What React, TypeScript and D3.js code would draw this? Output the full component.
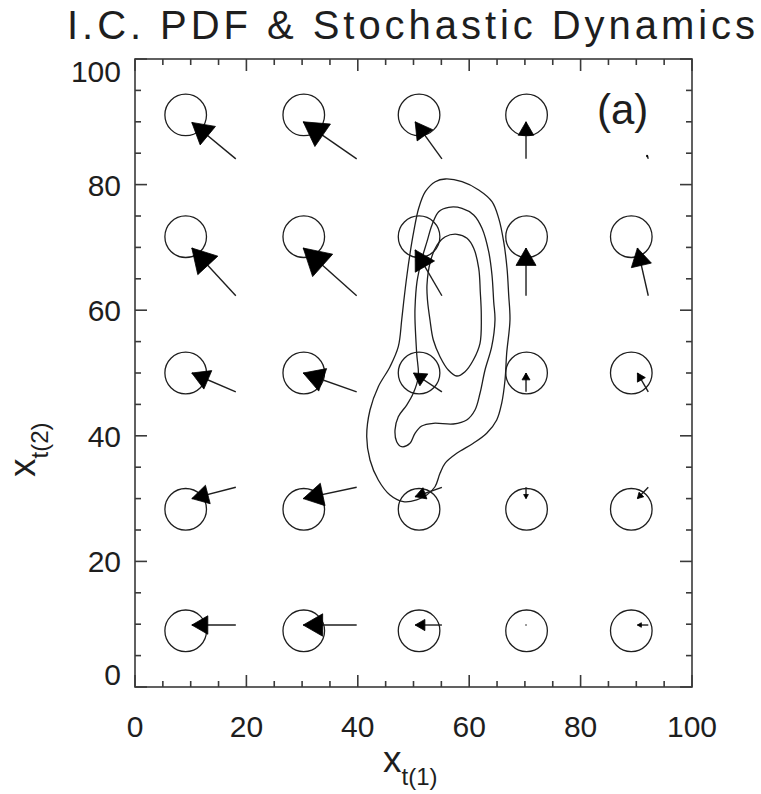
import React from "react";
import * as d3 from "d3";

// ---- data ----
const titleText = "I.C. PDF & Stochastic Dynamics";
const panelLabel = "(a)";
const xTickValues = [0, 20, 40, 60, 80, 100];
const yTickValues = [0, 20, 40, 60, 80, 100];

// circle markers (data coords)
const circleX = [9.1, 30.3, 51.0, 70.3, 89.1];
const circleY = [91.1, 71.7, 50.0, 28.3, 8.95];
const missingCircles = [[0, 4]];

// arrow tails (start points)
const startX = [18.1, 39.8, 55.1, 70.2, 92.15];
const startY = [84.1, 62.3, 47.0, 31.8, 9.87];

// arrow heads (end points), rows from top to bottom
const endX = [
  [10.2, 30.2, 50.3, 70.2, 91.9],
  [10.2, 30.2, 50.3, 70.2, 90.2],
  [10.2, 30.2, 50.0, 70.2, 90.2],
  [10.2, 30.2, 50.3, 70.2, 90.2],
  [10.2, 30.2, 50.3, 70.2, 90.2],
];
const endY = [
  [89.9, 90.0, 90.0, 90.0, 84.7],
  [69.9, 69.9, 69.6, 69.9, 69.9],
  [50.0, 50.0, 50.0, 50.0, 50.0],
  [30.0, 30.0, 30.3, 30.0, 30.0],
  [9.87, 9.87, 9.87, 9.87, 9.87],
];

// PDF contours
const contourOuter: [number, number][] = [
  [55.71, 80.89], [58.71, 80.46], [61.71, 79.14], [64.09, 77.28], [65.3, 74.63],
  [66.19, 70.91], [66.79, 66.67], [67.09, 62.42], [67.32, 58.44], [66.73, 53.14],
  [66.43, 48.89], [65.83, 45.18], [64.94, 42.52], [63.14, 40.4], [60.74, 38.81],
  [57.76, 37.21], [55.66, 35.62], [54.76, 34.03], [53.86, 31.89], [52.37, 30.57],
  [50.57, 29.78], [48.17, 29.51], [45.78, 30.57], [43.68, 32.96], [42.19, 36.15],
  [41.6, 39.86], [42.19, 44.11], [43.68, 47.82], [45.78, 51.0], [47.27, 54.19],
  [47.88, 58.44], [48.24, 61.35], [48.83, 65.61], [49.43, 69.32], [50.04, 72.5],
  [50.93, 76.23], [52.12, 78.87], [53.91, 80.46],
];
const contourMiddle: [number, number][] = [
  [56.32, 76.39], [58.71, 76.23], [60.81, 75.16], [62.3, 73.04], [63.5, 69.32],
  [64.09, 65.61], [64.4, 61.35], [64.63, 58.44], [64.04, 54.19], [62.84, 50.48],
  [61.94, 46.77], [61.04, 44.11], [59.55, 42.52], [57.15, 41.88], [53.56, 41.99],
  [51.47, 41.56], [50.27, 40.4], [49.37, 38.81], [47.88, 38.26], [46.98, 39.06],
  [46.68, 40.92], [47.27, 43.04], [48.78, 44.9], [49.96, 46.77], [50.86, 49.41],
  [50.57, 53.14], [50.27, 58.44], [50.27, 60.3], [50.63, 64.54], [51.53, 68.26],
  [52.42, 70.91], [53.32, 73.57], [54.52, 75.69],
];
const contourInner: [number, number][] = [
  [57.81, 72.09], [59.61, 71.45], [60.81, 69.86], [61.71, 66.67], [61.99, 62.95],
  [62.17, 59.24], [61.94, 54.73], [60.74, 52.07], [59.25, 50.21], [57.76, 49.52],
  [56.25, 50.48], [54.76, 52.6], [53.56, 55.25], [52.96, 58.44], [52.51, 61.62],
  [52.42, 64.01], [53.02, 67.72], [54.22, 70.38], [55.71, 71.7],
];

// ---- layout ----
const W = 761;
const H = 794;
const left = 135, right = 692, top = 59, bottom = 687;
const ink = "#1e1e1e";
const axisInk = "#3a3a3a";
const font = "'Liberation Sans', Arial, sans-serif";

export default function App() {
  const x = d3.scaleLinear().domain([0, 100]).range([left, right]);
  const y = d3.scaleLinear().domain([0, 100]).range([bottom, top]);

  const majorT = 12, minorT = 6;
  const minorVals = d3.range(0, 101, 5).filter((v) => v % 20 !== 0);

  const ticks: JSX.Element[] = [];
  xTickValues.forEach((v, i) => {
    const px = x(v);
    ticks.push(<line key={"xb" + i} x1={px} x2={px} y1={bottom} y2={bottom - majorT} />);
    ticks.push(<line key={"xt" + i} x1={px} x2={px} y1={top} y2={top + majorT} />);
  });
  minorVals.forEach((v, i) => {
    const px = x(v);
    ticks.push(<line key={"xbm" + i} x1={px} x2={px} y1={bottom} y2={bottom - minorT} />);
    ticks.push(<line key={"xtm" + i} x1={px} x2={px} y1={top} y2={top + minorT} />);
    const py = y(v);
    ticks.push(<line key={"ylm" + i} x1={left} x2={left + minorT} y1={py} y2={py} />);
    ticks.push(<line key={"yrm" + i} x1={right} x2={right - minorT} y1={py} y2={py} />);
  });
  yTickValues.forEach((v, i) => {
    const py = y(v);
    ticks.push(<line key={"yl" + i} x1={left} x2={left + majorT} y1={py} y2={py} />);
    ticks.push(<line key={"yr" + i} x1={right} x2={right - majorT} y1={py} y2={py} />);
  });

  const line = d3
    .line<[number, number]>()
    .x((d) => x(d[0]))
    .y((d) => y(d[1]))
    .curve(d3.curveCatmullRomClosed.alpha(0.5));

  const circles: JSX.Element[] = [];
  circleY.forEach((cyv, r) =>
    circleX.forEach((cxv, c) => {
      if (missingCircles.some(([mr, mc]) => mr === r && mc === c)) return;
      circles.push(
        <circle key={`c${r}-${c}`} cx={x(cxv)} cy={y(cyv)} r={20.8} fill="none" stroke={ink} strokeWidth={1.3} />
      );
    })
  );

  const arrows: JSX.Element[] = [];
  startY.forEach((syv, r) =>
    startX.forEach((sxv, c) => {
      const x0 = x(sxv), y0 = y(syv);
      const x1 = x(endX[r][c]), y1 = y(endY[r][c]);
      const len = Math.hypot(x0 - x1, y0 - y1);
      if (len < 1) {
        arrows.push(<circle key={`a${r}-${c}`} cx={x1} cy={y1} r={0.8} fill={ink} />);
        return;
      }
      const ux = (x0 - x1) / len, uy = (y0 - y1) / len;
      const h = 0.42 * len;
      const a = Math.PI / 6;
      const c1x = x1 + h * (ux * Math.cos(a) - uy * Math.sin(a));
      const c1y = y1 + h * (ux * Math.sin(a) + uy * Math.cos(a));
      const c2x = x1 + h * (ux * Math.cos(-a) - uy * Math.sin(-a));
      const c2y = y1 + h * (ux * Math.sin(-a) + uy * Math.cos(-a));
      arrows.push(
        <g key={`a${r}-${c}`}>
          <line x1={x0} y1={y0} x2={x1} y2={y1} stroke={ink} strokeWidth={1.4} />
          <polygon points={`${x1},${y1} ${c1x},${c1y} ${c2x},${c2y}`} fill="#000" stroke="#000" strokeWidth={0.8} strokeLinejoin="miter" />
        </g>
      );
    })
  );

  return (
    <svg width={W} height={H} style={{ position: "absolute", left: 0, top: 0, background: "#fff" }} fontFamily={font}>
      <rect x={0} y={0} width={W} height={H} fill="#fff" />
      <text x={67} y={39} fontSize={40} fill={ink} textLength={688} lengthAdjust="spacing">
        {titleText}
      </text>

      {[contourOuter, contourMiddle, contourInner].map((d, i) => (
        <path key={"ct" + i} d={line(d) || ""} fill="none" stroke={ink} strokeWidth={1.3} />
      ))}

      {circles}
      {arrows}

      <g stroke={axisInk} strokeWidth={1.6}>
        {ticks}
        <rect x={left} y={top} width={right - left} height={bottom - top} fill="none" />
      </g>

      {xTickValues.map((v, i) => (
        <text key={"xl" + i} x={x(v)} y={737} fontSize={30} textAnchor="middle" fill={ink}>
          {v}
        </text>
      ))}
      {yTickValues.map((v, i) => {
        const py = Math.min(Math.max(y(v), top + 12), bottom - 13);
        return (
          <text key={"yl" + i} x={121} y={py + 11} fontSize={30} textAnchor="end" fill={ink}>
            {v}
          </text>
        );
      })}

      <text x={597} y={124} fontSize={42} fill={ink}>
        {panelLabel}
      </text>

      <text x={383} y={772} fontSize={37} fill={ink}>
        x<tspan dy={13} fontSize={24}>t(1)</tspan>
      </text>
      <text transform="translate(35,477) rotate(-90)" fontSize={37} fill={ink}>
        x<tspan dy={13} fontSize={24}>t(2)</tspan>
      </text>
    </svg>
  );
}
